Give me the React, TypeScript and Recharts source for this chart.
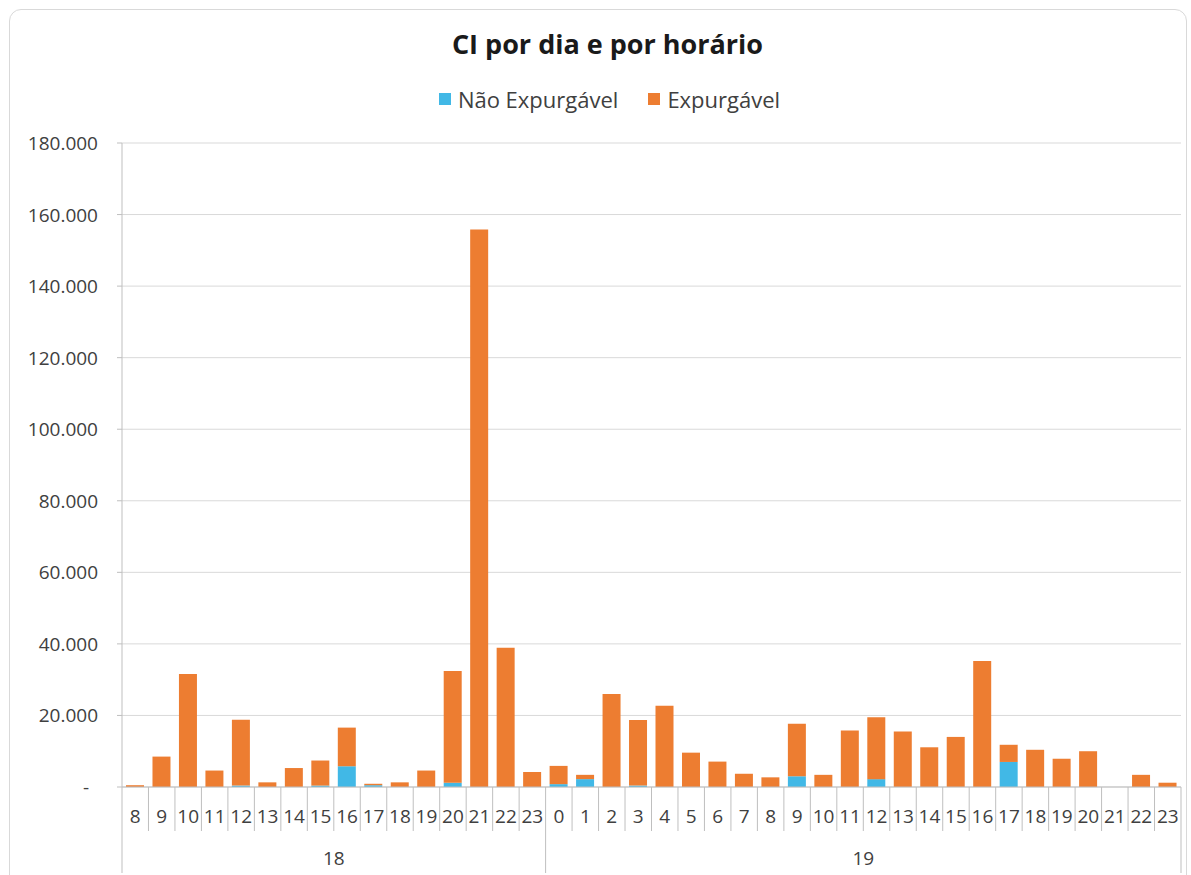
import React from 'react';
import { BarChart, Bar, XAxis, YAxis, CartesianGrid } from 'recharts';

const hourLabels = [
  '8', '9', '10', '11', '12', '13', '14', '15', '16', '17', '18', '19', '20', '21', '22', '23',
  '0', '1', '2', '3', '4', '5', '6', '7', '8', '9', '10', '11', '12', '13', '14', '15', '16', '17', '18', '19', '20', '21', '22', '23',
];
const dayLabels = ['18', '19'];
const dayHourCounts = [16, 24];

const naoExpurgavel = [
  0, 0, 0, 0, 400, 0, 0, 400, 5800, 500, 0, 0, 1200, 0, 0, 0,
  800, 2200, 0, 400, 0, 0, 0, 0, 0, 3000, 0, 0, 2200, 0, 0, 0, 0, 7000, 0, 0, 0, 0, 0, 0,
];
const expurgavel = [
  500, 8500, 31600, 4600, 18400, 1300, 5300, 7000, 10800, 400, 1300, 4600, 31200, 155800, 38900, 4200,
  5100, 1200, 26000, 18300, 22700, 9600, 7100, 3700, 2700, 14700, 3400, 15800, 17300, 15500, 11100, 14000, 35200, 4800, 10400, 7900, 10000, 0, 3400, 1200,
];
const yTicks = [0, 20000, 40000, 60000, 80000, 100000, 120000, 140000, 160000, 180000];

const seriesNames = ['Não Expurgável', 'Expurgável'];
const seriesColors = ['#41B8E6', '#ED7D31'];

const data = hourLabels.map((h, i) => ({
  key: String(i),
  hour: h,
  nao: naoExpurgavel[i],
  exp: expurgavel[i],
}));

const W = 1191;
const H = 875;
const MARGIN = { top: 143, right: 10, bottom: 0, left: 22 };
const Y_AXIS_W = 100;
const X_AXIS_H = 88;
const PLOT_LEFT = MARGIN.left + Y_AXIS_W;
const PLOT_RIGHT = W - MARGIN.right;
const AXIS_Y = H - MARGIN.bottom - X_AXIS_H;
const N = hourLabels.length;
const BW = (PLOT_RIGHT - PLOT_LEFT) / N;
const FONT = '"Open Sans", "Noto Sans", sans-serif';
const TEXT = '#404040';
const LINE = '#bfbfbf';

const groupStarts: number[] = [];
{
  let acc = 0;
  dayHourCounts.forEach((c) => {
    groupStarts.push(acc);
    acc += c;
  });
}

const fmt = (v: number) =>
  v === 0 ? '-' : v.toLocaleString('en-US').replace(/,/g, '.');

function HourTick(props: any) {
  const { x, payload } = props;
  const i = payload.index as number;
  const left = x - BW / 2;
  const right = x + BW / 2;
  const gi = groupStarts.indexOf(i);
  const els: any[] = [];
  els.push(
    <line key="l" x1={left} x2={left} y1={AXIS_Y} y2={gi >= 0 ? AXIS_Y + 86 : AXIS_Y + 44} stroke={LINE} strokeWidth={1} />
  );
  if (i === N - 1) {
    els.push(<line key="r" x1={right} x2={right} y1={AXIS_Y} y2={AXIS_Y + 86} stroke={LINE} strokeWidth={1} />);
  }
  els.push(
    <text key="t" x={x} y={AXIS_Y + 36} textAnchor="middle" fontSize={19} fontFamily={FONT} fill={TEXT}>
      {hourLabels[i]}
    </text>
  );
  if (gi >= 0) {
    const cx = left + (dayHourCounts[gi] * BW) / 2;
    els.push(
      <text key="d" x={cx} y={AXIS_Y + 78} textAnchor="middle" fontSize={19} fontFamily={FONT} fill={TEXT}>
        {dayLabels[gi]}
      </text>
    );
  }
  return <g>{els}</g>;
}

function YTick(props: any) {
  const { y, payload } = props;
  const v = payload.value as number;
  return (
    <text x={v === 0 ? 89 : 98} y={y + 7} textAnchor="end" fontSize={19} fontFamily={FONT} fill={TEXT}>
      {fmt(v)}
    </text>
  );
}

export default function App() {
  return (
    <div style={{ position: 'fixed', left: 0, top: 0, width: W, height: H, overflow: 'hidden', background: '#fff' }}>
      <div
        style={{
          position: 'absolute',
          left: 9,
          top: 9,
          width: 1178,
          height: 900,
          border: '1px solid #d9d9d9',
          borderRadius: 12,
          boxSizing: 'border-box',
        }}
      />
      <div
        style={{
          position: 'absolute',
          left: 12,
          width: W,
          top: 26,
          textAlign: 'center',
          fontFamily: FONT,
          fontWeight: 700,
          fontSize: 27,
          color: '#1a1a1a',
          lineHeight: '36px',
        }}
      >
        CI por dia e por horário
      </div>
      <div
        style={{
          position: 'absolute',
          left: 14,
          width: W,
          top: 84,
          display: 'flex',
          justifyContent: 'center',
          alignItems: 'center',
          fontFamily: FONT,
          fontSize: 22,
          color: TEXT,
          lineHeight: '30px',
        }}
      >
        {seriesNames.map((n, i) => (
          <div key={n} style={{ display: 'flex', alignItems: 'center', marginRight: i === 0 ? 30 : 0 }}>
            <span style={{ display: 'inline-block', width: 12, height: 12, background: seriesColors[i], marginRight: 7 }} />
            <span>{n}</span>
          </div>
        ))}
      </div>
      <div style={{ position: 'absolute', left: 0, top: 0 }}>
        <BarChart width={W} height={H} data={data} margin={MARGIN}>
          <CartesianGrid vertical={false} stroke="#d9d9d9" strokeWidth={1} />
          <XAxis
            dataKey="key"
            interval={0}
            height={X_AXIS_H}
            tickLine={false}
            axisLine={{ stroke: LINE }}
            tick={<HourTick />}
          />
          <YAxis
            width={Y_AXIS_W}
            domain={[0, 180000]}
            ticks={yTicks}
            interval={0}
            tickSize={5}
            tickLine={{ stroke: LINE }}
            axisLine={{ stroke: LINE }}
            tick={<YTick />}
          />
          <Bar dataKey="nao" stackId="a" fill={seriesColors[0]} barSize={18} isAnimationActive={false} />
          <Bar dataKey="exp" stackId="a" fill={seriesColors[1]} barSize={18} isAnimationActive={false} />
        </BarChart>
      </div>
    </div>
  );
}
